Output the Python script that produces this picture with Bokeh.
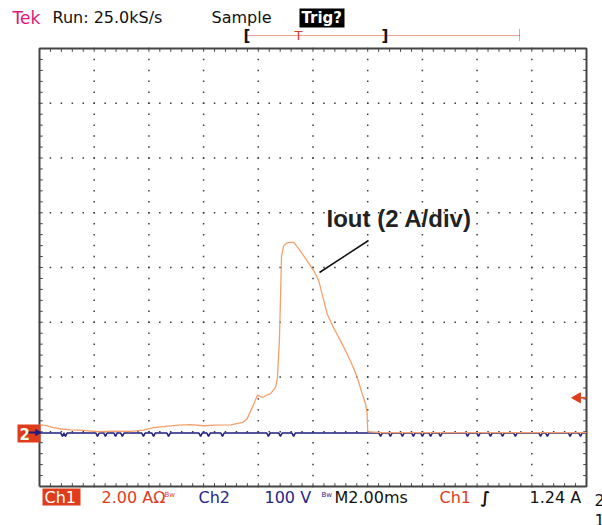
import numpy as np
from bokeh.plotting import figure
from bokeh.models import Range1d
from bokeh.embed import file_html
from bokeh.resources import INLINE
from bokeh.core.properties import value

# ---------------- data ----------------
# Ch1 : output current, time in ms, current in A (2 A/div, 2 ms/div)
t_ch1 = [0.00, 0.25, 0.51, 0.80, 1.13, 1.60, 2.12, 2.70, 3.33, 3.80, 4.17, 4.60,
         5.10, 5.52, 6.00, 6.44, 7.00, 7.42, 7.59, 7.78, 7.97, 8.14, 8.30, 8.45,
         8.63, 8.70, 8.77, 8.81, 8.85, 8.93, 9.02, 9.12, 9.30, 9.48, 9.75, 10.03,
         10.21, 10.52, 10.75, 11.01, 11.25, 11.45, 11.62, 11.80, 11.92, 11.98,
         12.00, 12.50, 14.00, 16.00, 18.00, 20.00]
i_ch1 = [0.26, 0.22, 0.15, 0.10, 0.07, 0.05, 0.00, 0.02, 0.01, 0.06, 0.15, 0.20,
         0.24, 0.26, 0.22, 0.24, 0.25, 0.34, 0.47, 0.89, 1.34, 1.25, 1.33, 1.39,
         1.62, 1.97, 3.32, 4.79, 6.43, 6.79, 6.88, 6.92, 6.92, 6.68, 6.30, 5.88,
         5.52, 4.30, 3.80, 3.32, 2.84, 2.40, 1.98, 1.38, 1.02, 0.66,
         0.00, -0.03, -0.03, -0.03, -0.03, -0.03]

# Ch2 : voltage, 100 V/div, flat at 0 V with small glitches (times in ms)
ch2_glitch_t = [0.84, 0.95, 2.12, 2.41, 2.78, 3.03, 3.80, 4.17, 4.72, 5.89, 6.18,
                6.69, 8.37, 8.81, 9.29, 12.47, 12.83, 13.27, 13.67, 14.00, 14.30,
                14.66, 15.65, 16.05, 16.49, 16.93, 17.40, 18.32, 18.57, 19.40, 19.78]
ch2_glitch_v = [-6] * len(ch2_glitch_t)

trig_level = 1.24   # A

# ---------------- layout helpers (reference pixel -> data) ----------------
def X(px):
    return (px - 39) * 20.0 / 547.0

def Y(py):
    return -2.0 + (486 - py) * 16.0 / 438.0

p = figure(width=602, height=525, output_backend="svg", toolbar_location=None,
           x_range=Range1d(X(0), X(602)), y_range=Range1d(Y(525), Y(0)),
           x_axis_location=None, y_axis_location=None, min_border=0)
p.grid.visible = False
p.outline_line_color = None
p.background_fill_color = "white"
p.border_fill_color = "white"

# ch2 range: 100 V/div, zero slightly below ch1 zero
ch2_off = -0.05
p.extra_y_ranges = {"ch2": Range1d((Y(525) - ch2_off) * 50, (Y(0) - ch2_off) * 50)}

# ---------------- graticule ----------------
gx, gy = [], []
for xm in np.arange(2, 20, 2):
    for ym in np.arange(-2, 14.001, 0.4):
        gx.append(xm); gy.append(ym)
for ym in np.arange(0, 14, 2):
    for xm in np.arange(0, 20.001, 0.4):
        gx.append(xm); gy.append(ym)
p.scatter(gx, gy, marker="square", size=1.5, fill_color="#3a3a3a", line_color=None)

tk = 0.12
minor_x = np.arange(0.4, 20, 0.4)
minor_y = np.arange(-1.6, 14, 0.4)
p.segment(x0=list(minor_x) * 2, y0=[14] * len(minor_x) + [-2] * len(minor_x),
          x1=list(minor_x) * 2, y1=[14 - tk] * len(minor_x) + [-2 + tk] * len(minor_x),
          line_color="#444444", line_width=1)
p.segment(x0=[0] * len(minor_y) + [20] * len(minor_y), y0=list(minor_y) * 2,
          x1=[tk] * len(minor_y) + [20 - tk] * len(minor_y), y1=list(minor_y) * 2,
          line_color="#444444", line_width=1)
p.line([0, 20, 20, 0, 0], [-2, -2, 14, 14, -2], line_color="#444444", line_width=2)

# ---------------- traces ----------------
bt, bv = [0.0], [0.0]
for gt, gv in zip(ch2_glitch_t, ch2_glitch_v):
    bt += [gt - 0.06, gt, gt + 0.06]
    bv += [0.0, gv, 0.0]
bt.append(20.0); bv.append(0.0)
p.line(bt, bv, y_range_name="ch2", line_color="#1f1f80", line_width=1.5)
p.line(t_ch1, i_ch1, line_color="#f4a06c", line_width=1.3)

# trigger level marker (right)
p.scatter([X(577)], [trig_level], marker="triangle", angle=np.pi / 2, size=10,
          fill_color="#e03c1c", line_color="#e03c1c")
p.segment(x0=[X(578)], y0=[trig_level], x1=[20], y1=[trig_level],
          line_color="#e03c1c", line_width=1.5)

# ground marker (left)
p.quad(left=[X(17)], right=[X(40)], bottom=[Y(442)], top=[Y(424)],
       fill_color="#e03c1c", line_color=None)

def txt(px, py, s, color="#111111", size="16px", font="DejaVu Sans",
        style="normal", align="left"):
    p.text([X(px)], [Y(py)], text=[s], text_font=value(font),
           text_font_size=value(size), text_color=color, text_font_style=style,
           text_baseline="middle", text_align=align)

txt(19, 433, "2", color="#e8ffe8", size="15px", style="bold")
p.segment(x0=[X(28)], y0=[Y(432)], x1=[X(38)], y1=[Y(432)], line_color="#1f1f80", line_width=2)
p.scatter([X(37)], [Y(432)], marker="triangle", angle=-np.pi / 2, size=6,
          fill_color="#1f1f80", line_color="#1f1f80")

# ---------------- top status line ----------------
txt(12, 17, "Tek", color="#e0157a", size="17px")
txt(52, 17, "Run: 25.0kS/s", size="16px")
txt(211, 17, "Sample", size="16px")
p.quad(left=[X(299)], right=[X(344)], bottom=[Y(27)], top=[Y(8)],
       fill_color="black", line_color=None)
txt(301, 17, "Trig?", color="white", size="15px", style="bold")

p.line([X(246), X(519)], [Y(35), Y(35)], line_color="#e04020", line_width=1, line_dash="1 1")
p.line([X(519), X(519)], [Y(29), Y(41)], line_color="#e04020", line_width=1, line_dash="1 1")
txt(243, 35, "[", size="15px", style="bold")
txt(381, 35, "]", size="15px", style="bold")
txt(298, 35, "T", color="#e04020", size="13px", align="center")

# ---------------- bottom status line ----------------
p.quad(left=[X(42)], right=[X(80)], bottom=[Y(505)], top=[Y(488)],
       fill_color="#e03c1c", line_color=None)
txt(44, 497, "Ch1", color="white", size="16px")
txt(101, 497, "2.00 AΩ", color="#e03c1c", size="16px")
txt(164, 494, "Bw", color="#e03c1c", size="7px")
txt(198, 497, "Ch2", color="#26268a", size="16px")
txt(264, 497, "100 V", color="#26268a", size="16px")
txt(321, 494, "Bw", color="#26268a", size="7px")
txt(334, 497, "M2.00ms", size="16px")
txt(439, 497, "Ch1", color="#e03c1c", size="16px")
txt(480, 497, "∫", size="16px", style="bold")
txt(529, 497, "1.24 A", size="16px")
txt(594, 499, "2", size="16px")
txt(594, 519, "1", size="16px")

# ---------------- annotation ----------------
txt(326, 218, "Iout (2 A/div)", color="#222222", size="24px",
    font="Liberation Sans", style="bold")
p.line([X(368), X(319)], [Y(240), Y(272)], line_color="#111111", line_width=1.5)

open("out.html", "w").write(file_html(p, INLINE))
